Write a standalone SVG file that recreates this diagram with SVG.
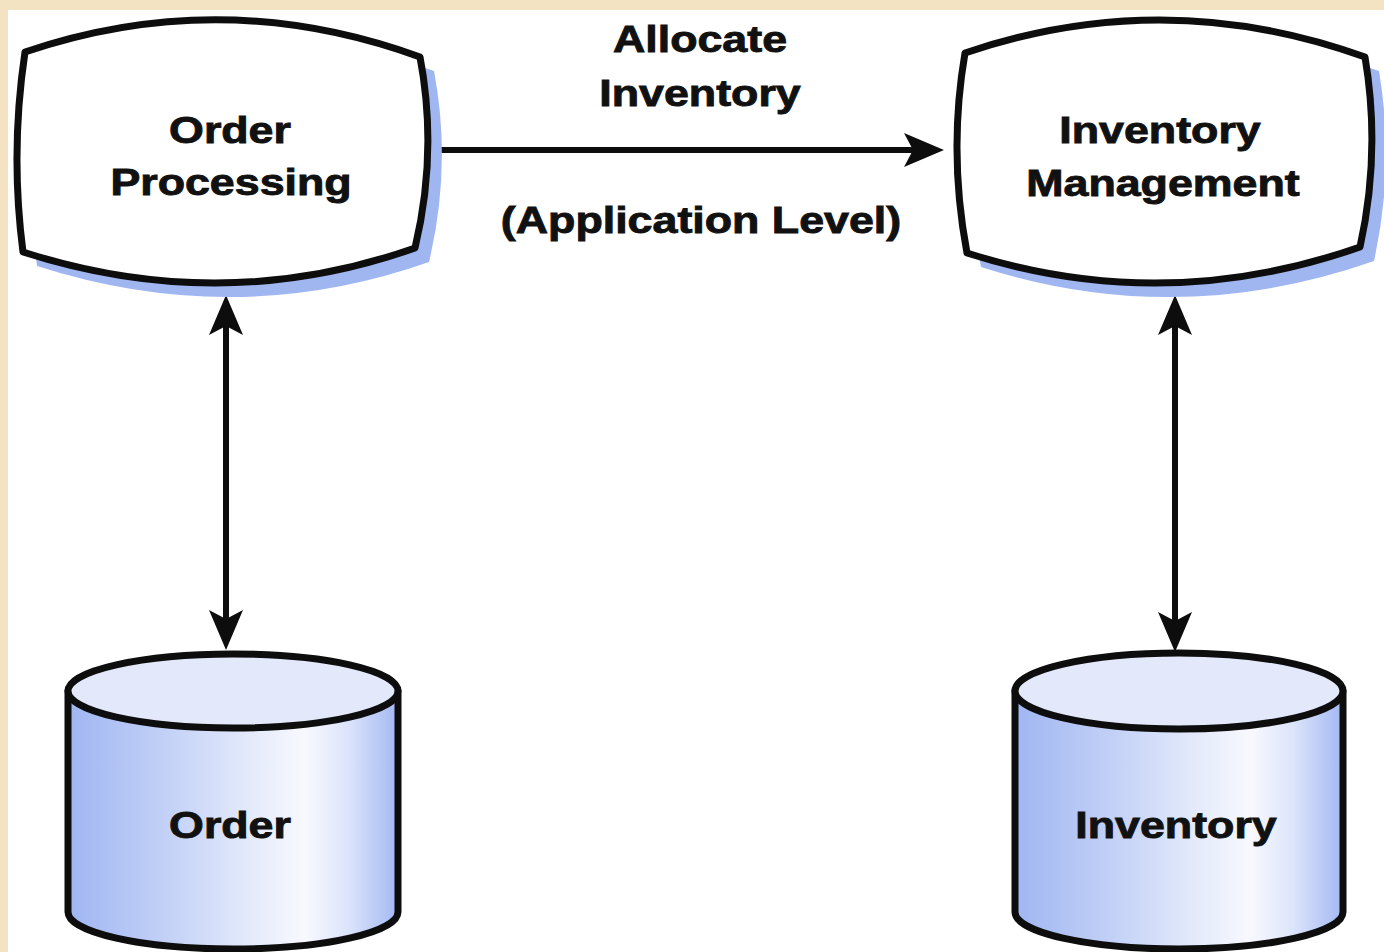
<svg xmlns="http://www.w3.org/2000/svg" width="1384" height="952" viewBox="0 0 1384 952">
  <defs>
    <style>
      .proc { fill: #ffffff; stroke: #0d0d0d; stroke-width: 7; stroke-linejoin: round; }
      .shadow { fill: #9fb6f0; stroke: none; }
      .cyl { stroke: #0d0d0d; stroke-width: 7; stroke-linejoin: round; }
      .body { fill: url(#cylFill); }
      .lid { fill: #e3e8fa; }
      .lbl { font-family: "Liberation Sans", Arial, sans-serif; font-weight: bold; font-size: 37px; fill: #111111; stroke: #111111; stroke-width: 0.9; text-anchor: middle; }
      .conn { fill: none; stroke: #0d0d0d; stroke-width: 6; }
    </style>
    <linearGradient id="cylFill" x1="0" y1="0" x2="1" y2="0">
      <stop offset="0" stop-color="#a0b6f2"/>
      <stop offset="0.3" stop-color="#c3d1f7"/>
      <stop offset="0.55" stop-color="#e4eafb"/>
      <stop offset="0.72" stop-color="#f8f9fe"/>
      <stop offset="0.85" stop-color="#dce4fb"/>
      <stop offset="1" stop-color="#a3b8f3"/>
    </linearGradient>
    <marker id="arrow" viewBox="0 0 40 34" refX="9" refY="17" markerWidth="40" markerHeight="34" markerUnits="userSpaceOnUse" orient="auto-start-reverse">
      <path d="M0,0 L40,17 L0,34 L9,17 Z" fill="#0d0d0d"/>
    </marker>
  </defs>

  <!-- page background with a beige margin on the top and left -->
  <rect x="0" y="0" width="1384" height="952" fill="#f4e3c3"/>
  <rect x="8" y="10" width="1376" height="942" fill="#ffffff"/>

  <!-- connectors -->
  <g id="connectors">
    <path class="conn" d="M430,150 L913,150" marker-end="url(#arrow)"/>
    <path class="conn" d="M226,326 L226,619" marker-start="url(#arrow)" marker-end="url(#arrow)"/>
    <path class="conn" d="M1175,326 L1175,621" marker-start="url(#arrow)" marker-end="url(#arrow)"/>
  </g>

  <!-- process: Order Processing -->
  <g id="order-processing">
    <path class="shadow" transform="translate(14,14)" d="M25,52 Q222,-15 420,57 Q438,152 415,248 Q222,316 23,252 Q10,152 25,52 Z"/>
    <path class="proc" d="M25,52 Q222,-15 420,57 Q438,152 415,248 Q222,316 23,252 Q10,152 25,52 Z"/>
    <text class="lbl" transform="translate(230,143) scale(1.21,1)">Order</text>
    <text class="lbl" transform="translate(231,195) scale(1.21,1)">Processing</text>
  </g>

  <!-- process: Inventory Management -->
  <g id="inventory-management">
    <path class="shadow" transform="translate(14,14)" d="M965,53 Q1165,-15 1365,57 Q1381,152 1360,247 Q1163,316 967,253 Q948,152 965,53 Z"/>
    <path class="proc" d="M965,53 Q1165,-15 1365,57 Q1381,152 1360,247 Q1163,316 967,253 Q948,152 965,53 Z"/>
    <text class="lbl" transform="translate(1160,143) scale(1.21,1)">Inventory</text>
    <text class="lbl" transform="translate(1163,196) scale(1.21,1)">Management</text>
  </g>

  <!-- connector labels -->
  <g id="allocate-label">
    <text class="lbl" transform="translate(700,52) scale(1.21,1)">Allocate</text>
    <text class="lbl" transform="translate(700,106) scale(1.21,1)">Inventory</text>
    <text class="lbl" transform="translate(701,233) scale(1.21,1)">(Application Level)</text>
  </g>

  <!-- data store: Order -->
  <g id="order-db">
    <path class="cyl body" d="M68,691 L68,912 A165,37 0 0 0 398,912 L398,691 Z"/>
    <ellipse class="cyl lid" cx="233" cy="691" rx="165" ry="37"/>
    <text class="lbl" transform="translate(230,838) scale(1.21,1)">Order</text>
  </g>

  <!-- data store: Inventory -->
  <g id="inventory-db">
    <path class="cyl body" d="M1015,691 L1015,912 A164,37 0 0 0 1343,912 L1343,691 Z"/>
    <ellipse class="cyl lid" cx="1179" cy="691" rx="164" ry="38"/>
    <text class="lbl" transform="translate(1176,838) scale(1.21,1)">Inventory</text>
  </g>
</svg>
